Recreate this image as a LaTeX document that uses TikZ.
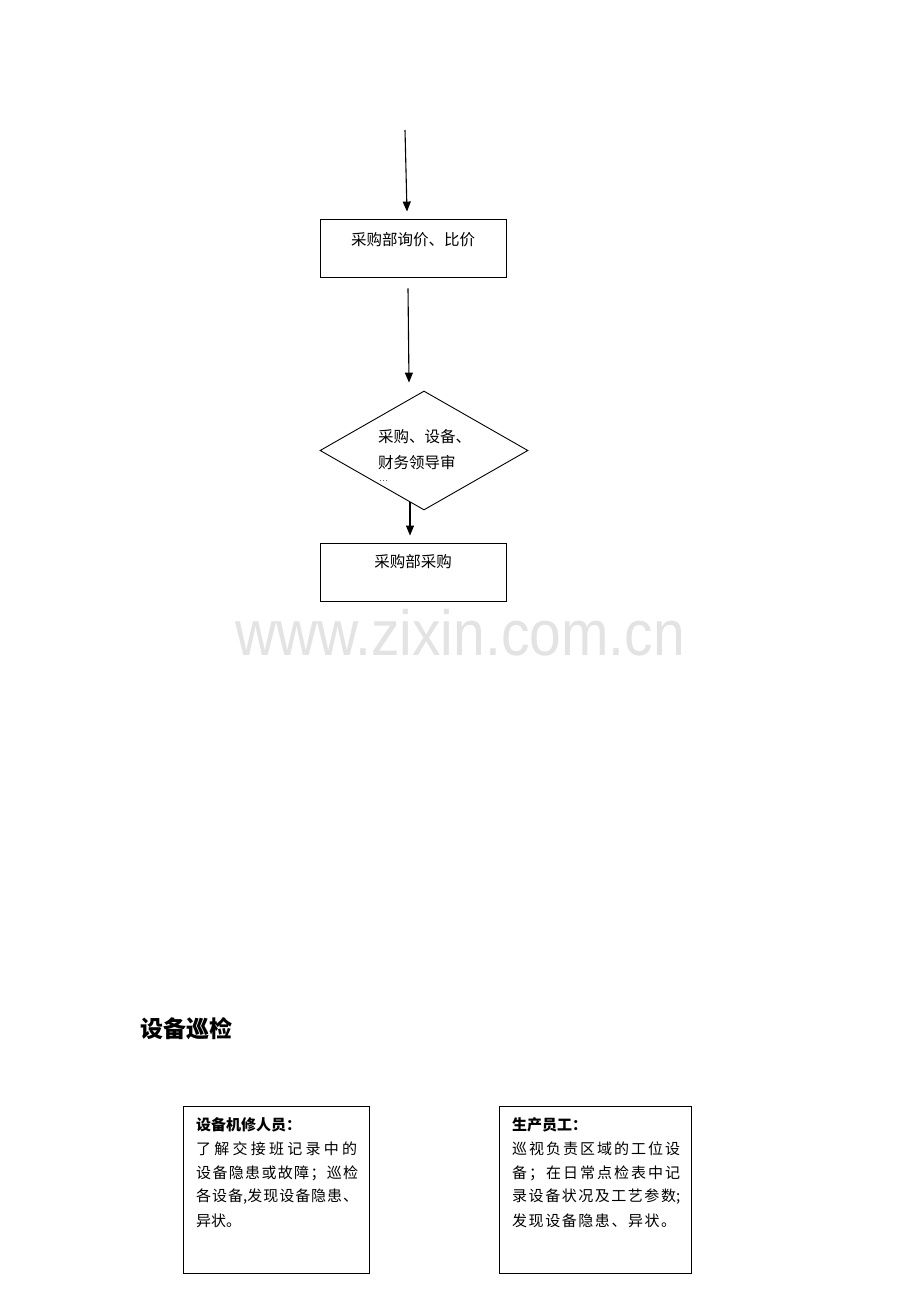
\documentclass[tikz,border=0pt]{standalone}
\usepackage{fontspec}
\newfontfamily\cjk{Noto Sans CJK SC}
\newfontfamily\wm{Liberation Sans}
\usetikzlibrary{arrows.meta,shapes.geometric}
\newcommand\spr[2]{\makebox[#1][s]{#2}}
\begin{document}
\begin{tikzpicture}[x=1pt,y=-1pt,
  box/.style={draw,line width=0.9pt,inner sep=0pt},
  arr/.style={line width=1.1pt,-{Triangle[length=10pt,width=8pt]}},
  lbl/.style={inner sep=0pt,font=\cjk\fontsize{15.5pt}{18pt}\selectfont},
  txt/.style={inner sep=0pt,anchor=west,font=\cjk\fontsize{15pt}{18pt}\selectfont}]
\useasboundingbox[fill=white] (0,0) rectangle (920,1302);
% watermark
\node[inner sep=0pt,anchor=base,text=black!11,font=\wm\fontsize{57pt}{60pt}\selectfont,yscale=1.12] (wmk) at (460,655) {www.zixin.com.cn};
% top flow
\coordinate (s0) at (405,130);
\node[box,minimum width=186pt,minimum height=58pt] (b1) at (413,248) {};
\node[lbl] (t1) at (413,240) {采购部询价、比价};
\node[draw,line width=0.9pt,shape=diamond,inner sep=0pt,minimum width=208pt,minimum height=119pt] (d1) at (424,450.5) {};
\node[lbl,anchor=west] (t2a) at (378,437) {采购、设备、};
\node[lbl,anchor=west] (t2b) at (378,463) {财务领导审};
\node[inner sep=0pt,anchor=base west,text=black!80,font=\fontsize{11pt}{11pt}\selectfont] (t2c) at (379,481) {...};
\node[box,minimum width=186pt,minimum height=58pt] (b3) at (413,572) {};
\node[lbl] (t3) at (413,562) {采购部采购};
\draw[arr] (s0) -- ([xshift=-6pt,yshift=7pt]b1.north);
\draw[arr] ([xshift=-5pt,yshift=-11pt]b1.south) -- ([xshift=-15pt,yshift=8pt]d1.north);
\draw[arr] ([xshift=-14pt,yshift=8pt]d1.south) -- ([xshift=-3pt,yshift=7pt]b3.north);
% section heading
\node[inner sep=0pt,anchor=west,font=\cjk\bfseries\fontsize{23pt}{25pt}\selectfont] (h1) at (140,1029) {设备巡检};
% bottom boxes
\node[box,minimum width=186pt,minimum height=167pt] (bl) at (276,1189.5) {};
\node[box,minimum width=192pt,minimum height=167pt] (br) at (595,1189.5) {};
\node[txt] (l1) at (196,1125) {\bfseries 设备机修人员：};
\node[txt] (l2) at (196,1149) {\spr{161pt}{了\hfill 解\hfill 交\hfill 接\hfill 班\hfill 记\hfill 录\hfill 中\hfill 的}};
\node[txt] (l3) at (196,1173) {\spr{162pt}{设\hfill 备\hfill 隐\hfill 患\hfill 或\hfill 故\hfill 障\hfill ；\hfill 巡\hfill 检}};
\node[txt] (l4) at (196,1197) {\spr{162pt}{各\hfill 设\hfill 备,发\hfill 现\hfill 设\hfill 备\hfill 隐\hfill 患\hfill 、}};
\node[txt] (l5) at (196,1221) {异状。};
\node[txt] (r1) at (512,1125) {\bfseries 生产员工：};
\node[txt] (r2) at (512,1149) {\spr{168pt}{巡\hfill 视\hfill 负\hfill 责\hfill 区\hfill 域\hfill 的\hfill 工\hfill 位\hfill 设}};
\node[txt] (r3) at (512,1173) {\spr{168pt}{备\hfill ；\hfill 在\hfill 日\hfill 常\hfill 点\hfill 检\hfill 表\hfill 中\hfill 记}};
\node[txt] (r4) at (512,1197) {\spr{168pt}{录\hfill 设\hfill 备\hfill 状\hfill 况\hfill 及\hfill 工\hfill 艺\hfill 参\hfill 数;}};
\node[txt] (r5) at (512,1221) {\spr{164pt}{发\hfill 现\hfill 设\hfill 备\hfill 隐\hfill 患\hfill 、\hfill 异\hfill 状\hfill 。}};
\end{tikzpicture}
\end{document}
